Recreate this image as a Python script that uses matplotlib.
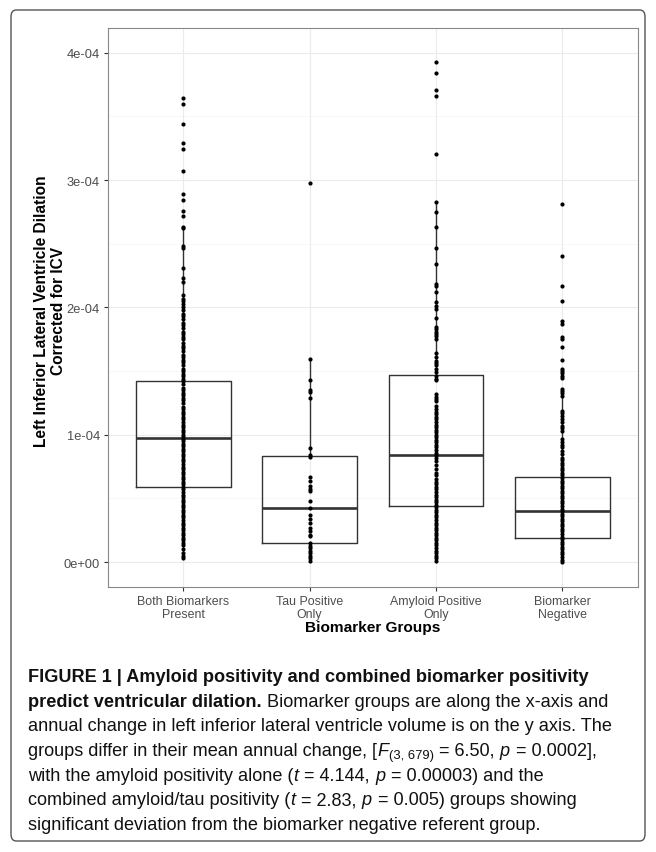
import matplotlib
matplotlib.use("Agg")
import matplotlib.pyplot as plt
import numpy as np
from matplotlib.patches import FancyBboxPatch
from matplotlib.ticker import FixedLocator

# ---------------- data (values in units of 1e-4) ----------------
UNIT = 1e-4
categories = ["Both Biomarkers\nPresent", "Tau Positive\nOnly", "Amyloid Positive\nOnly", "Biomarker\nNegative"]

q1s = [0.589, 0.147, 0.440, 0.186]
medians = [0.976, 0.425, 0.838, 0.398]
q3s = [1.420, 0.834, 1.469, 0.665]
whis_lo = [0.03, 0.01, 0.00, 0.00]
whis_hi = [2.63, 1.595, 2.83, 1.36]

both_present = [3.643, 3.595, 3.438, 3.294, 3.242, 3.069, 2.891, 2.844, 2.760, 2.720,
                2.629, 2.621, 2.485, 2.464, 2.307, 2.229, 2.202, 2.097, 2.07, 2.05, 2.03,
                2.00, 1.98, 1.95, 1.93, 1.91, 1.88, 1.86, 1.84, 1.81, 1.79, 1.77, 1.75,
                1.72, 1.70, 1.68, 1.66, 1.63, 1.61, 1.59, 1.57, 1.55, 1.52, 1.50, 1.48,
                1.46, 1.44, 1.42, 1.40, 1.37, 1.35, 1.33, 1.31, 1.29, 1.27, 1.25, 1.22,
                1.20, 1.18, 1.16, 1.14, 1.12, 1.10, 1.08, 1.06, 1.04, 1.02, 1.00, 0.98,
                0.97, 0.95, 0.93, 0.91, 0.89, 0.87, 0.85, 0.83, 0.81, 0.79, 0.77, 0.75,
                0.73, 0.71, 0.69, 0.67, 0.65, 0.63, 0.61, 0.59, 0.57, 0.55, 0.53, 0.51,
                0.49, 0.47, 0.45, 0.43, 0.41, 0.39, 0.37, 0.35, 0.33, 0.31, 0.29, 0.27,
                0.25, 0.23, 0.21, 0.19, 0.17, 0.15, 0.13, 0.10, 0.07, 0.05, 0.03]

tau_only = [2.98, 1.595, 1.430, 1.354, 1.333, 1.286, 0.893, 0.841, 0.823, 0.670,
            0.639, 0.600, 0.574, 0.560, 0.482, 0.422, 0.369, 0.338, 0.306, 0.265,
            0.246, 0.212, 0.202, 0.149, 0.128, 0.107, 0.089, 0.071, 0.050, 0.029, 0.010]

amyloid_only = [3.928, 3.838, 3.705, 3.658, 3.207,
                2.826, 2.752, 2.634, 2.469, 2.338, 2.184, 2.168, 2.118, 2.045, 2.009,
                1.987, 1.919, 1.849, 1.830, 1.809, 1.791, 1.778, 1.752, 1.639, 1.608,
                1.581, 1.563, 1.547, 1.516, 1.490, 1.464, 1.44, 1.43, 1.32, 1.30, 1.28,
                1.265, 1.225, 1.20, 1.18, 1.16, 1.14, 1.12, 1.10, 1.08, 1.06, 1.04,
                1.02, 1.00, 0.98, 0.96, 0.94, 0.92, 0.90, 0.88, 0.86, 0.84, 0.82, 0.79,
                0.76, 0.73, 0.70, 0.68, 0.65, 0.63, 0.61, 0.59, 0.57, 0.55, 0.53, 0.51,
                0.49, 0.47, 0.45, 0.43, 0.41, 0.39, 0.37, 0.35, 0.33, 0.31, 0.29, 0.27,
                0.25, 0.23, 0.21, 0.19, 0.17, 0.15, 0.13, 0.11, 0.09, 0.07, 0.05, 0.03,
                0.01]

biomarker_negative = [2.81, 2.406, 2.17, 2.053, 1.896, 1.870, 1.770, 1.752, 1.692,
                      1.587, 1.516, 1.503, 1.485, 1.464, 1.443, 1.359, 1.346, 1.325,
                      1.306, 1.19, 1.17, 1.15, 1.12, 1.10, 1.07, 1.05, 1.03, 0.97,
                      0.94, 0.92, 0.90, 0.87, 0.85, 0.82, 0.80, 0.78, 0.76, 0.74,
                      0.72, 0.70, 0.68, 0.66, 0.64, 0.62, 0.60, 0.58, 0.56, 0.54,
                      0.52, 0.50, 0.48, 0.46, 0.44, 0.42, 0.40, 0.38, 0.36, 0.34,
                      0.32, 0.30, 0.28, 0.26, 0.24, 0.22, 0.20, 0.18, 0.16, 0.14,
                      0.12, 0.10, 0.08, 0.06, 0.04, 0.02, 0.00]

group_points = [both_present, tau_only, amyloid_only, biomarker_negative]

y_ticks = [0, 1, 2, 3, 4]
y_tick_labels = ["0e+00", "1e-04", "2e-04", "3e-04", "4e-04"]
y_minor = [0.5, 1.5, 2.5, 3.5]

# ---------------- layout ----------------
W, H = 656, 853
fig = plt.figure(figsize=(W / 100, H / 100), dpi=100)
fig.patch.set_facecolor("white")
renderer = fig.canvas.get_renderer()

def fx(px):
    return px / W

def fy(py):
    return 1 - py / H

FAM = ["Liberation Sans", "DejaVu Sans"]

def measure(s, size=10, weight="normal", style="normal"):
    t = fig.text(0, 0, s, fontsize=size, fontfamily=FAM, fontweight=weight, fontstyle=style)
    w = t.get_window_extent(renderer).width
    t.remove()
    return w

def fit_size(s, target_px, weight="normal"):
    return 10.0 * target_px / measure(s, 10, weight)

# outer frame
frame = FancyBboxPatch((fx(11), fy(842)), fx(645) - fx(11), fy(11) - fy(842),
                       boxstyle="round,pad=0,rounding_size=0.008",
                       transform=fig.transFigure, facecolor="none",
                       edgecolor="#555555", linewidth=1.0)
fig.patches.append(frame)

ax = fig.add_axes([fx(107.5), fy(588), fx(638) - fx(107.5), fy(29) - fy(588)])
ax.set_xlim(0.4, 4.6)
ax.set_ylim(-0.196 * UNIT, 4.195 * UNIT)

# grid
for v in y_minor:
    ax.axhline(v * UNIT, color="#F4F4F4", lw=0.5, zorder=0)
for v in y_ticks:
    ax.axhline(v * UNIT, color="#EBEBEB", lw=0.8, zorder=0)
for i in range(1, 5):
    ax.axvline(i, color="#EBEBEB", lw=0.8, zorder=0)

# boxplots
stats = []
for i in range(4):
    stats.append(dict(q1=q1s[i] * UNIT, med=medians[i] * UNIT, q3=q3s[i] * UNIT,
                      whislo=whis_lo[i] * UNIT, whishi=whis_hi[i] * UNIT, fliers=[]))
ax.bxp(stats, positions=[1, 2, 3, 4], widths=0.75, showcaps=False, showfliers=False,
       boxprops=dict(color="#333333", linewidth=1.0),
       whiskerprops=dict(color="#333333", linewidth=1.0),
       medianprops=dict(color="#333333", linewidth=1.9),
       manage_ticks=False, zorder=2)

# points
for i, pts in enumerate(group_points):
    vals = np.array(pts) * UNIT
    ax.scatter(np.full(len(vals), i + 1), vals, s=9, color="black", linewidths=0, zorder=3)

# axes styling
for sp in ax.spines.values():
    sp.set_color("#888888")
    sp.set_linewidth(0.8)
tick_size = fit_size("Both Biomarkers", 92)
ytick_size = fit_size("4e-04", 33)
ax.yaxis.set_major_locator(FixedLocator([v * UNIT for v in y_ticks]))
ax.set_yticklabels(y_tick_labels, fontfamily=FAM, fontsize=ytick_size, color="#4D4D4D")
ax.set_xticks([1, 2, 3, 4])
ax.set_xticklabels(categories, fontfamily=FAM, fontsize=tick_size, color="#4D4D4D",
                   linespacing=1.1)
ax.tick_params(axis="both", length=3, width=0.8, color="#333333", pad=2.5)

xt_size = fit_size("Biomarker Groups", 135, "bold")
fig.text(fx(372.75), fy(632), "Biomarker Groups", fontfamily=FAM, fontweight="bold",
         fontsize=xt_size, ha="center", va="baseline")
yt_size = fit_size("Left Inferior Lateral Ventricle Dilation", 272, "bold")
fig.text(fx(50), fy(311), "Left Inferior Lateral Ventricle Dilation\nCorrected for ICV",
         fontfamily=FAM, fontweight="bold", fontsize=yt_size, rotation=90,
         ha="center", va="center", multialignment="center", linespacing=1.2)

# ---------------- caption ----------------
CAP = fit_size("annual change in left inferior lateral ventricle volume is on the y axis. The", 587)

space_w = measure("x x", CAP) - measure("xx", CAP)

caption_lines = [
    [("FIGURE 1 | Amyloid positivity and combined biomarker positivity", "b", False)],
    [("predict ventricular dilation.", "b", False), ("Biomarker groups are along the x-axis and", "n", True)],
    [("annual change in left inferior lateral ventricle volume is on the y axis. The", "n", False)],
    [("groups differ in their mean annual change, [", "n", False), ("F", "i", False),
     ("(3, 679)", "sub", False), ("= 6.50,", "n", True), ("p", "i", True), ("= 0.0002],", "n", True)],
    [("with the amyloid positivity alone (", "n", False), ("t", "i", False), ("= 4.144,", "n", True),
     ("p", "i", True), ("= 0.00003) and the", "n", True)],
    [("combined amyloid/tau positivity (", "n", False), ("t", "i", False), ("= 2.83,", "n", True),
     ("p", "i", True), ("= 0.005) groups showing", "n", True)],
    [("significant deviation from the biomarker negative referent group.", "n", False)],
]
baselines = [682, 706.7, 731.4, 756, 780.8, 805.5, 830.2]

for runs, base in zip(caption_lines, baselines):
    x = 28.0
    for text, kind, sp in runs:
        if sp:
            x += space_w
        kw = dict(fontfamily=FAM, fontsize=CAP, color="#111111", va="baseline", ha="left")
        yb = base
        if kind == "b":
            kw["fontweight"] = "bold"
        elif kind == "i":
            kw["fontstyle"] = "italic"
        elif kind == "sub":
            kw["fontsize"] = CAP * 0.72
            yb = base + 3.5
        t = fig.text(fx(x), fy(yb), text, **kw)
        x += t.get_window_extent(renderer).width + (1.0 if kind == "i" else 0)

fig.savefig("out.png", dpi=100, facecolor="white")
